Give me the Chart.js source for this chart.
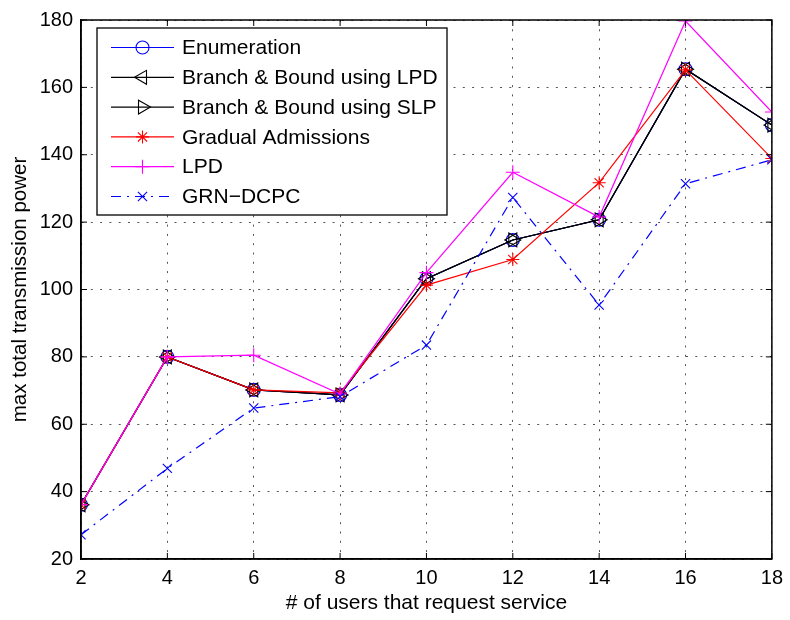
<!DOCTYPE html>
<html>
<head>
<meta charset="utf-8">
<title>max total transmission power</title>
<script src="https://cdn.jsdelivr.net/npm/chart.js@4/dist/chart.umd.min.js"></script>
<style>
  html, body { margin: 0; padding: 0; background: #fff; }
  canvas { display: block; }
</style>
</head>
<body>
<canvas id="plot" width="790" height="620"></canvas>
<script>
// number of users on the x axis
const users = [2, 4, 6, 8, 10, 12, 14, 16, 18];

const enumeration  = [36.1, 80.0, 70.2, 68.7, 103.2, 114.7, 120.7, 165.4, 148.8];
const bbLpd        = [36.1, 80.0, 70.2, 68.7, 103.2, 114.7, 120.7, 165.4, 148.8];
const bbSlp        = [36.1, 80.0, 70.2, 68.7, 103.2, 114.7, 120.7, 165.4, 148.8];
const gradual      = [36.1, 80.0, 70.2, 69.3, 101.3, 108.9, 131.7, 165.2, 138.9];
const lpd          = [36.1, 80.0, 80.5, 69.0, 105.0, 134.8, 121.5, 179.7, 152.7];
const grnDcpc      = [27.2, 46.9, 64.8, 68.2, 83.5, 127.3, 95.4, 131.4, 138.5];

const xTicks = [2, 4, 6, 8, 10, 12, 14, 16, 18];
const yTicks = [20, 40, 60, 80, 100, 120, 140, 160, 180];

const FONT = "'Liberation Sans', Arial, Helvetica, sans-serif";

function pts(ys) {
  return users.map((u, i) => ({ x: u, y: ys[i] }));
}

function series(label, ys, color, style, opts) {
  return Object.assign({
    label: label,
    data: pts(ys),
    borderColor: color,
    backgroundColor: 'transparent',
    borderWidth: 1.2,
    pointStyle: style,
    pointRadius: 6,
    pointBorderColor: color,
    pointBackgroundColor: 'transparent',
    pointBorderWidth: 1.1,
    pointRotation: 0,
    tension: 0,
    fill: false
  }, opts || {});
}

const datasets = [
  series('Enumeration', enumeration, '#0000ff', 'circle', { pointRadius: 6.5 }),
  series('Branch & Bound using LPD', bbLpd, '#000000', 'triangle', { pointRadius: 8, pointRotation: -90 }),
  series('Branch & Bound using SLP', bbSlp, '#000000', 'triangle', { pointRadius: 8, pointRotation: 90 }),
  series('Gradual Admissions', gradual, '#ff0000', 'star', { pointRadius: 6.5 }),
  series('LPD', lpd, '#ff00ff', 'cross', { pointRadius: 7 }),
  series('GRN\u2212DCPC', grnDcpc, '#0000ff', 'crossRot', { pointRadius: 6.5, borderDash: [10, 6, 2, 6] })
];
// later series are painted over earlier ones
datasets.forEach((d, i) => { d.order = datasets.length - i; });

// closed box with inward tick marks on all four sides
const boxPlugin = {
  id: 'box',
  afterDraw(chart) {
    const { ctx, chartArea: a, scales } = chart;
    const len = 6;
    ctx.save();
    ctx.strokeStyle = '#000';
    ctx.lineWidth = 1;
    ctx.beginPath();
    xTicks.forEach(v => {
      const x = scales.x.getPixelForValue(v);
      ctx.moveTo(x, a.bottom); ctx.lineTo(x, a.bottom - len);
      ctx.moveTo(x, a.top); ctx.lineTo(x, a.top + len);
    });
    yTicks.forEach(v => {
      const y = scales.y.getPixelForValue(v);
      ctx.moveTo(a.left, y); ctx.lineTo(a.left + len, y);
      ctx.moveTo(a.right, y); ctx.lineTo(a.right - len, y);
    });
    ctx.stroke();
    ctx.lineWidth = 1.5;
    ctx.strokeRect(a.left, a.top, a.right - a.left, a.bottom - a.top);
    ctx.restore();
  }
};

// legend box inside the upper left of the plot
const legendPlugin = {
  id: 'insideLegend',
  afterDraw(chart) {
    const ctx = chart.ctx;
    const bx = 97, by = 28, bw = 350, bh = 187;
    const rowY = 47.5, rowStep = 29.8;
    ctx.save();
    ctx.fillStyle = '#fff';
    ctx.fillRect(bx, by, bw, bh);
    ctx.strokeStyle = '#000';
    ctx.lineWidth = 1.3;
    ctx.strokeRect(bx, by, bw, bh);
    chart.data.datasets.forEach((d, i) => {
      const y = rowY + i * rowStep;
      ctx.save();
      ctx.strokeStyle = d.borderColor;
      ctx.lineWidth = d.borderWidth;
      ctx.setLineDash(d.borderDash || []);
      ctx.beginPath();
      ctx.moveTo(111, y);
      ctx.lineTo(174, y);
      ctx.stroke();
      // drawPoint strokes with whatever style the context holds
      ctx.setLineDash([]);
      ctx.strokeStyle = d.pointBorderColor;
      ctx.fillStyle = 'rgba(0,0,0,0)';
      ctx.lineWidth = d.pointBorderWidth;
      Chart.helpers.drawPoint(ctx, {
        pointStyle: d.pointStyle,
        radius: d.pointRadius,
        rotation: d.pointRotation,
        borderWidth: d.pointBorderWidth
      }, 142.5, y);
      ctx.restore();
      ctx.fillStyle = '#000';
      ctx.font = '21px ' + FONT;
      ctx.textBaseline = 'middle';
      ctx.textAlign = 'left';
      ctx.fillText(d.label, 182, y + 1);
    });
    ctx.restore();
  }
};

new Chart(document.getElementById('plot'), {
  type: 'line',
  data: { datasets: datasets },
  plugins: [boxPlugin, legendPlugin],
  options: {
    responsive: false,
    animation: false,
    layout: { padding: { top: 13, right: 16, left: 0, bottom: 0 } },
    plugins: { legend: { display: false }, tooltip: { enabled: false } },
    scales: {
      x: {
        type: 'linear',
        min: 2, max: 18,
        afterBuildTicks: s => { s.ticks = xTicks.map(v => ({ value: v })); },
        afterFit: s => { s.height = 61; },
        ticks: { color: '#000', font: { family: FONT, size: 20 }, padding: 7, maxRotation: 0 },
        grid: { color: '#555', lineWidth: 1, drawTicks: false },
        border: { display: true, color: '#000', width: 1.5, dash: [2, 7.3] },
        title: { display: true, text: '# of users that request service', color: '#000',
                 font: { family: FONT, size: 21 }, padding: { top: 0, bottom: 4 } }
      },
      y: {
        min: 20, max: 180,
        afterBuildTicks: s => { s.ticks = yTicks.map(v => ({ value: v })); },
        afterFit: s => { s.width = 81; },
        ticks: { color: '#000', font: { family: FONT, size: 20 }, padding: 8 },
        grid: { color: '#555', lineWidth: 1, drawTicks: false },
        border: { display: true, color: '#000', width: 1.5, dash: [2, 7.3] },
        title: { display: true, text: 'max total transmission power', color: '#000',
                 font: { family: FONT, size: 20.5 }, padding: { top: 8, bottom: 0 } }
      }
    }
  }
});
</script>
</body>
</html>
